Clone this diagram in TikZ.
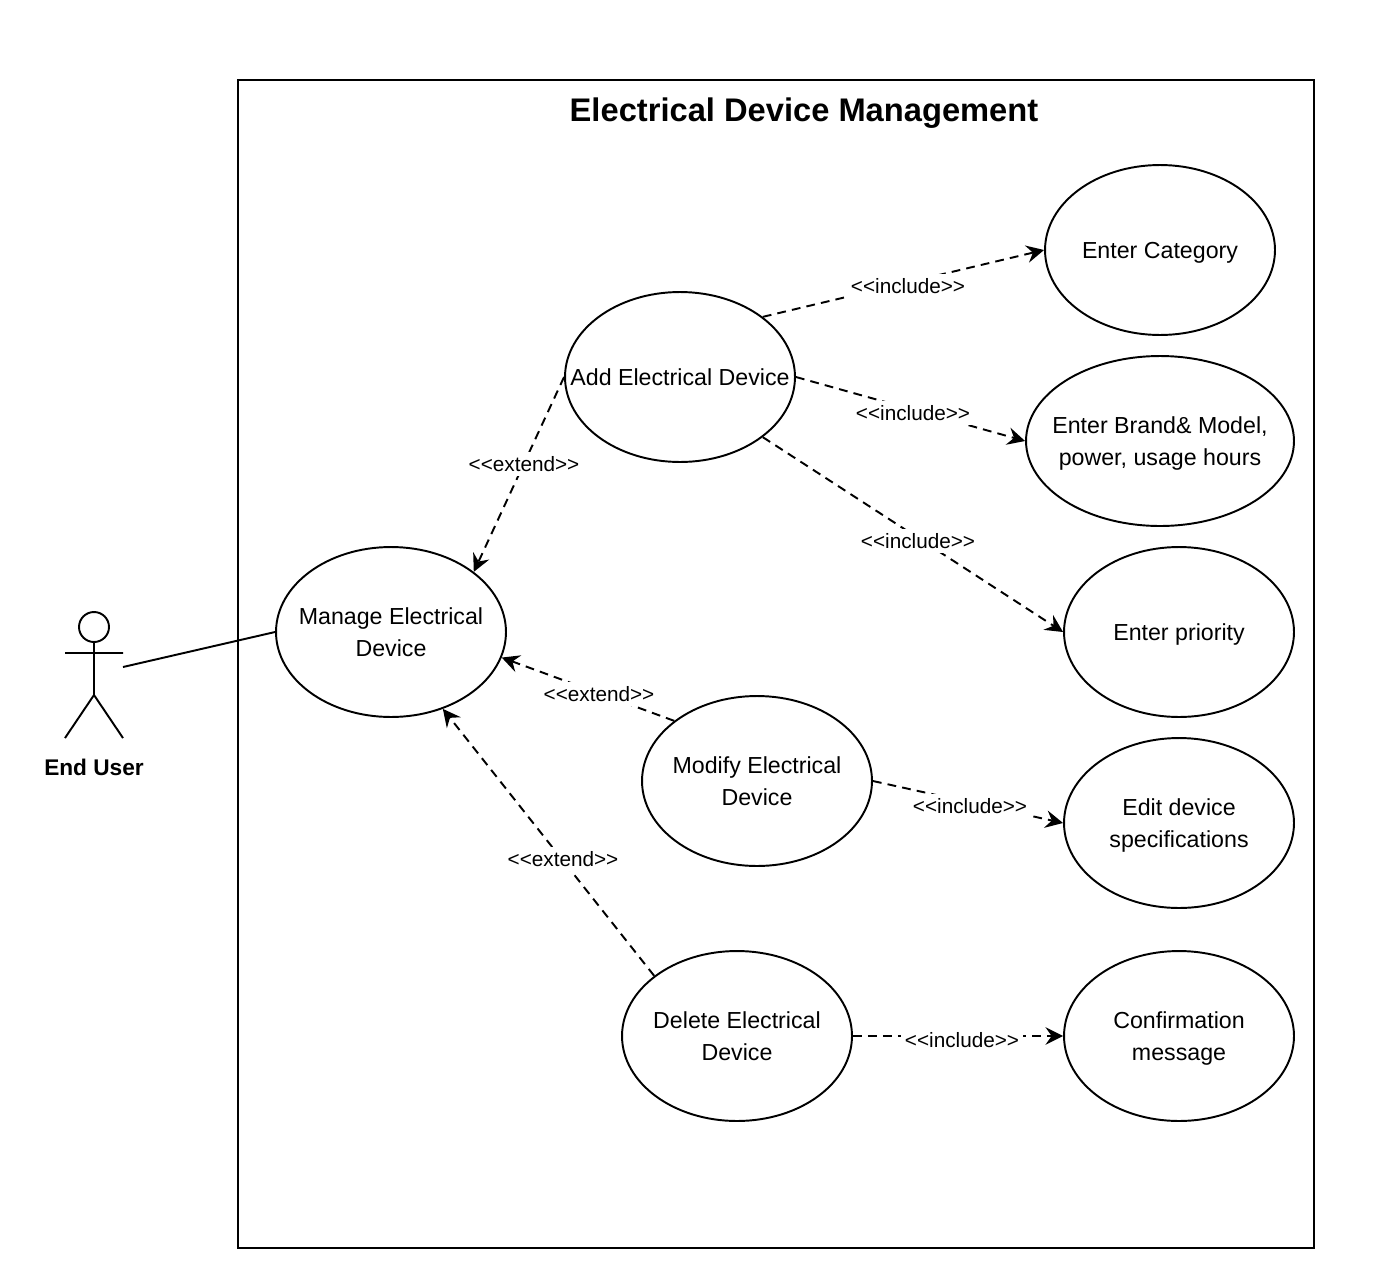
\documentclass[tikz,border=0pt]{standalone}
\usepackage{fontspec}
\setmainfont{Liberation Sans}
\usetikzlibrary{shapes.geometric,arrows.meta}
% text of a use case must not widen its ellipse
\newcommand{\uctext}[1]{\makebox[0pt]{\raisebox{-1.1pt}[\height][\depth]{\begin{tabular}{@{}c@{}}#1\end{tabular}}}}
\tikzset{
    usecase/.style={draw,ellipse,line width=1.1pt,inner sep=0pt,
        minimum width=4.6cm,minimum height=3.4cm,font=\fontsize{13.2}{18}\selectfont},
    dep/.style={line width=1.1pt,dash pattern=on 5pt off 3.5pt,-{Stealth[length=10pt,width=10pt,inset=3.5pt]}},
    deplabel/.style={fill=white,inner sep=2.5pt,font=\fontsize{11.8}{14}\selectfont}
}

\begin{document}
\begin{tikzpicture}[x=0.02cm, y=-0.02cm]
    \useasboundingbox (0,0) rectangle (1379,1285);
    % system boundary
    \draw[line width=1.1pt] (238,80) rectangle (1314,1248);
    \node (title) at (804,113) {\fontsize{18.6}{22}\selectfont\bfseries Electrical Device Management};

    % actor
    \draw[line width=1.1pt] (94,627) circle (15);
    \draw[line width=1.1pt] (94,642) -- (94,695) (65,653) -- (123,653)
        (65,738) -- (94,695) -- (123,738);
    \node (enduser) at (94,767) {\fontsize{12.9}{16}\selectfont\bfseries End User};
    \coordinate (actor) at (123,667);

    % use cases
    \node[usecase] (manage) at (391,632) {\uctext{Manage Electrical\\Device}};
    \node[usecase] (add) at (680,377) {\uctext{Add Electrical Device}};
    \node[usecase] (modify) at (757,781) {\uctext{Modify Electrical\\Device}};
    \node[usecase] (delete) at (737,1036) {\uctext{Delete Electrical\\Device}};
    \node[usecase] (category) at (1160,250) {\uctext{Enter Category}};
    \node[usecase,minimum width=5.36cm] (brand) at (1160,441) {\uctext{Enter Brand\& Model,\\power, usage hours}};
    \node[usecase] (priority) at (1179,632) {\uctext{Enter priority}};
    \node[usecase] (edit) at (1179,823) {\uctext{Edit device\\specifications}};
    \node[usecase] (confirm) at (1179,1036) {\uctext{Confirmation\\message}};

    \draw[line width=1.1pt] (actor) -- (manage.west);

    % extend
    \draw[dep] (add.west) -- (manage.36);
    \draw[dep] (modify.144) -- (manage.-13);
    \draw[dep] (delete.144) -- (manage.-56);
    \node[deplabel] (extadd) at (524,464) {<{}<extend>{}>};
    \node[deplabel] (extmodify) at (599,694) {<{}<extend>{}>};
    \node[deplabel] (extdelete) at (563,859) {<{}<extend>{}>};

    % include
    \draw[dep] (add.36) -- (category.west);
    \draw[dep] (add.east) -- (brand.west);
    \draw[dep] (add.-36) -- (priority.west);
    \draw[dep] (modify.east) -- (edit.west);
    \draw[dep] (delete.east) -- (confirm.west);
    \node[deplabel] (inccategory) at (908,286) {<{}<include>{}>};
    \node[deplabel] (incbrand) at (913,413) {<{}<include>{}>};
    \node[deplabel] (incpriority) at (918,541) {<{}<include>{}>};
    \node[deplabel] (incedit) at (970,806) {<{}<include>{}>};
    \node[deplabel] (incconfirm) at (962,1040) {<{}<include>{}>};
\end{tikzpicture}
\end{document}
